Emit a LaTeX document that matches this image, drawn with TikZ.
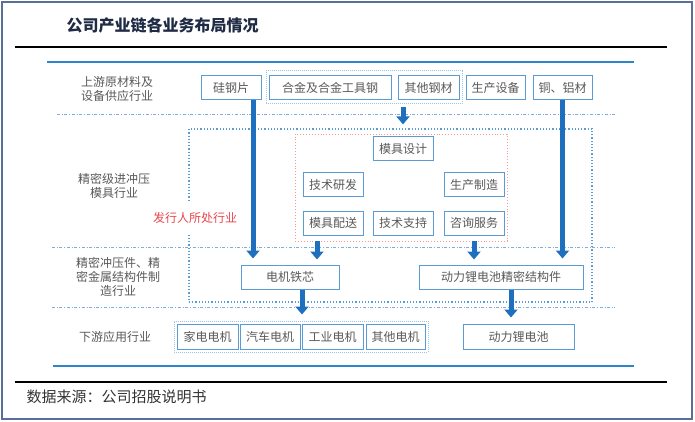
\documentclass[tikz,border=0pt]{standalone}
\usepackage{fontspec}
\setmainfont{Noto Sans CJK SC}
\usetikzlibrary{positioning, arrows.meta, shapes.geometric}
\definecolor{boxblue}{HTML}{5B9BD5}
\definecolor{lightblue}{HTML}{9DC3E6}
\definecolor{arrowblue}{HTML}{1F6FBF}
\definecolor{lineblue}{HTML}{2E86C8}
\definecolor{framegray}{HTML}{5A6E96}
\definecolor{textgray}{HTML}{595959}
\definecolor{titlenavy}{HTML}{1F2A44}
\definecolor{issuerred}{HTML}{E8474C}
\definecolor{moldpink}{HTML}{F19A9C}
\newcommand{\blockarrow}{-{Triangle[length=8pt,width=13pt]}}
\newcommand{\boxfont}{\fontsize{12}{14}\selectfont}
\tikzset{
  item/.style={draw=boxblue, line width=1pt, fill=white, text=textgray, font=\boxfont, minimum height=24pt, inner sep=0pt},
  group/.style={draw=lightblue, densely dotted, line width=1pt, inner sep=0pt},
  rowlabel/.style={text=textgray, align=center, font=\boxfont},
  separator/.style={draw=boxblue!80, dash dot, line width=0.9pt},
  flow/.style={draw=arrowblue, line width=5pt, \blockarrow}
}

\begin{document}
\begin{tikzpicture}[x=1pt, y=-1pt]
\useasboundingbox (0,0) rectangle (695,422);
\draw[framegray, line width=1.2pt] (2,2) rectangle (692,419);

% title and rules
\node[anchor=west, text=titlenavy, font=\fontsize{16}{18}\selectfont\bfseries] (title) at (63,25) {公司产业链各业务布局情况};
\draw[line width=1.6pt] (15,47) -- (667,47);
\draw[lineblue, line width=2pt] (47,62) -- (634,62);
\draw[lineblue, line width=2pt] (53,366) -- (634,366);
\draw[line width=1.6pt] (15,382) -- (667,382);
\node[anchor=west, text=black!80, font=\fontsize{15}{17}\selectfont] (source) at (23,397) {数据来源：公司招股说明书};

% row separators
\draw[separator] (57,114) -- (615,114);
\draw[separator] (52,247) -- (615,247);
\draw[separator] (52,307) -- (615,307);

% row labels
\node[rowlabel] (upstream) at (117,89) {上游原材料及\\设备供应行业};
\node[rowlabel] (moldrow) at (114,186) {精密级进冲压\\模具行业};
\node[rowlabel] (stamprow) at (118,277) {精密冲压件、精\\密金属结构件制\\造行业};
\node[rowlabel] (downstream) at (115,337) {下游应用行业};

% issuer zone and mold box
\node[draw=boxblue, dotted, line width=1.2pt, minimum width=403pt, minimum height=173pt, inner sep=0pt] (issuerzone) at (390.5,215.5) {};
\node[fill=white, text=issuerred, font=\boxfont, minimum height=31pt, inner sep=1pt] (issuer) at (195,218) {发行人所处行业};
\node[draw=moldpink, dotted, line width=0.9pt, minimum width=212pt, minimum height=107pt, inner sep=0pt] (mold) at (401,187.5) {};

% upstream boxes
\node[group, minimum width=196pt, minimum height=33pt] (steelgroup) at (364,87.5) {};
\node[item, minimum width=60pt] (silicon) at (231,88) {硅钢片};
\node[item, minimum width=122pt] (alloy) at (330,88) {合金及合金工具钢};
\node[item, minimum width=61pt] (othersteel) at (428.5,88) {其他钢材};
\node[item, minimum width=59pt] (equip) at (495.5,88) {生产设备};
\node[item, minimum width=59pt] (copper) at (562.5,88) {铜、铝材};

% mold services
\node[item, minimum width=60pt] (design) at (403,149) {模具设计};
\node[item, minimum width=60pt] (research) at (333,184.5) {技术研发};
\node[item, minimum width=60pt] (making) at (474,184.5) {生产制造};
\node[item, minimum width=60pt] (delivery) at (333,223) {模具配送};
\node[item, minimum width=60pt] (support) at (403,223) {技术支持};
\node[item, minimum width=60pt] (consult) at (474,223) {咨询服务};

% stamped parts
\node[item, minimum width=98pt] (core) at (290,277) {电机铁芯};
\node[item, minimum width=164pt] (structure) at (501,277) {动力锂电池精密结构件};

% downstream boxes
\node[group, minimum width=254pt, minimum height=31pt] (motorgroup) at (301,336.5) {};
\node[item, minimum width=61pt, minimum height=25pt] (appliance) at (207.5,336.5) {家电电机};
\node[item, minimum width=60pt, minimum height=25pt] (automotive) at (270,336.5) {汽车电机};
\node[item, minimum width=61pt, minimum height=25pt] (industrial) at (332.5,336.5) {工业电机};
\node[item, minimum width=59pt, minimum height=25pt] (othermotor) at (395.5,336.5) {其他电机};
\node[item, minimum width=111pt, minimum height=25pt] (battery) at (518.5,336.5) {动力锂电池};

% arrow columns
\coordinate (siliconx) at (253,0);
\coordinate (moldleftx) at (317,0);
\coordinate (corex) at (302,0);
\coordinate (structx) at (511,0);

\draw[flow, shorten >=6pt] (silicon.south -| siliconx) -- (core.north -| siliconx);
\draw[flow, shorten <=3pt, shorten >=4pt] (steelgroup.south -| design.north) -- (issuerzone.north -| design.north);
\draw[flow, shorten >=6pt] (copper.south) -- (structure.north -| copper.south);
\draw[flow, shorten >=5pt] (mold.south -| moldleftx) -- (core.north -| moldleftx);
\draw[flow, shorten >=5pt] (mold.south -| consult.south) -- (structure.north -| consult.south);
\draw[flow, shorten >=6pt] (core.south -| corex) -- (motorgroup.north -| corex);
\draw[flow, shorten >=6pt] (structure.south -| structx) -- (battery.north -| structx);
\end{tikzpicture}
\end{document}
